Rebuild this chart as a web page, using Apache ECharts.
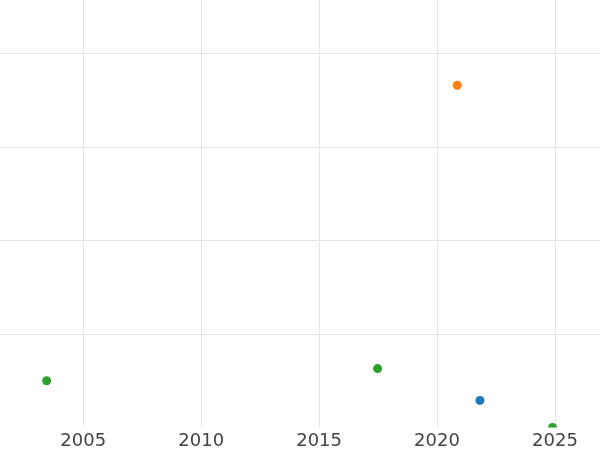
<!DOCTYPE html>
<html>
<head>
<meta charset="utf-8">
<script src="https://cdn.jsdelivr.net/npm/echarts@6/dist/echarts.min.js"></script>
<style>
  html, body { margin: 0; padding: 0; background: #fff; }
  #chart { width: 600px; height: 450px; }
</style>
</head>
<body>
<div id="chart"></div>
<script>
// data (x = year, y = value on a hidden axis)
const blueX = [2021.82];
const blueY = [0.29];
const orangeX = [2020.86];
const orangeY = [3.66];
const greenX = [2003.45, 2017.48, 2024.90];
const greenY = [0.50, 0.63, 0.0];

// axis ranges
const xMin = 2001.47;
const xMax = 2026.91;
const yMin = 0;
const yMax = 4.572;

const gridBottom = 22.5;

const toPoints = (xs, ys) => xs.map((x, i) => [x, ys[i]]);

const makeSeries = (name, xs, ys, color) => ({
    name: name,
    type: 'scatter',
    xAxisIndex: 0,
    yAxisIndex: 0,
    data: toPoints(xs, ys),
    symbol: 'circle',
    symbolSize: 9,
    itemStyle: { color: color, opacity: 1 },
    z: 2,
    silent: true,
});

const gridLine = { show: true, lineStyle: { color: '#e4e4e4', width: 1 }, showMinLine: false, showMaxLine: false };

const option = {
    animation: false,
    backgroundColor: '#fff',
    grid: { left: 0, right: 0, top: 0, bottom: gridBottom, containLabel: false, outerBoundsMode: 'none' },
    xAxis: [
        {
            // labels only, drawn over the mask
            type: 'value',
            min: xMin,
            max: xMax,
            z: 10,
            axisLine: { show: false },
            axisTick: { show: false },
            splitLine: { show: false },
            axisLabel: {
                show: true,
                color: '#444',
                fontSize: 18,
                fontFamily: 'DejaVu Sans',
                margin: 5,
                showMinLabel: false,
                showMaxLabel: false,
                formatter: (v) => String(Math.round(v)),
            },
        },
        {
            // vertical grid lines
            type: 'value',
            min: xMin,
            max: xMax,
            z: 0,
            axisLine: { show: false },
            axisTick: { show: false },
            axisLabel: { show: false },
            splitLine: gridLine,
        },
    ],
    yAxis: {
        type: 'value',
        min: yMin,
        max: yMax,
        interval: 1,
        z: 0,
        axisLine: { show: false },
        axisTick: { show: false },
        axisLabel: { show: false },
        splitLine: gridLine,
    },
    // white strip below the plot so points on the edge get cut like in the picture
    graphic: [{
        type: 'rect',
        z: 5,
        silent: true,
        shape: { x: 0, y: 450 - gridBottom, width: 600, height: gridBottom },
        style: { fill: '#fff' },
    }],
    series: [
        makeSeries('blue', blueX, blueY, '#1f77b4'),
        makeSeries('orange', orangeX, orangeY, '#ff7f0e'),
        makeSeries('green', greenX, greenY, '#2ca02c'),
    ],
};

const myChart = echarts.init(document.getElementById('chart'));
myChart.setOption(option);
</script>
</body>
</html>
